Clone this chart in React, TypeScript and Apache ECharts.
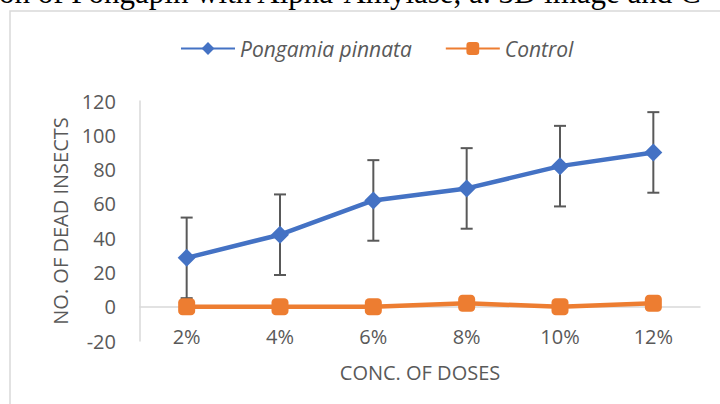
import React, { useEffect, useRef } from "react";
import * as echarts from "echarts";

const categories = ["2%", "4%", "6%", "8%", "10%", "12%"];
const pongamia = [28.5, 42, 62, 69, 82, 90];
const pongamiaErr = [23.5, 23.5, 23.5, 23.5, 23.5, 23.5];
const control = [0, 0, 0, 2, 0, 2];
const yTicks = { min: -20, max: 120, interval: 20 };
const headerText = "on of Pongapin with Alpha-Amylase, a. 3D image and C";

const FONT = "'Open Sans', 'Noto Sans', sans-serif";
const GRAY = "#595959";

export default function App() {
  const ref = useRef<HTMLDivElement>(null);
  useEffect(() => {
    if (!ref.current) return;
    const chart = echarts.init(ref.current, undefined, { renderer: "svg" });
    const errData = pongamia.map((v, i) => [i, v - pongamiaErr[i], v + pongamiaErr[i]]);
    chart.setOption({
      animation: false,
      backgroundColor: "#ffffff",
      textStyle: { fontFamily: FONT },
      graphic: [
        {
          type: "rect",
          shape: { x: 10, y: 11, width: 720, height: 400 },
          style: { fill: "none", stroke: "#d9d9d9", lineWidth: 1.5 },
          z: 0,
        },
        {
          type: "text",
          x: -1,
          y: -23,
          style: {
            text: headerText,
            font: "31px 'Liberation Serif', 'DejaVu Serif', serif",
            fill: "#000",
          },
        },
      ],
      legend: {
        left: 175,
        top: 33,
        itemWidth: 54,
        itemHeight: 16,
        itemGap: 33,
        textStyle: {
          fontFamily: FONT,
          fontStyle: "italic",
          fontSize: 21,
          color: GRAY,
        },
        data: ["Pongamia pinnata", "Control"],
      },
      grid: {
        left: 140,
        right: 20,
        top: 101,
        bottom: 63,
        containLabel: false,
        outerBoundsMode: "none",
      },
      xAxis: {
        type: "category",
        data: categories,
        boundaryGap: true,
        axisLine: { lineStyle: { color: "#d9d9d9", width: 1.5 } },
        axisTick: { show: false },
        axisLabel: { color: GRAY, fontSize: 20, margin: -15, fontFamily: FONT },
        name: "CONC. OF DOSES",
        nameLocation: "middle",
        nameGap: 21,
        nameTextStyle: { color: GRAY, fontSize: 20, fontFamily: FONT },
      },
      yAxis: {
        type: "value",
        min: yTicks.min,
        max: yTicks.max,
        interval: yTicks.interval,
        splitLine: { show: false },
        axisLine: { show: true, lineStyle: { color: "#d9d9d9", width: 1.5 } },
        axisTick: { show: false },
        axisLabel: { color: GRAY, fontSize: 20, margin: 24, fontFamily: FONT },
        name: "NO. OF DEAD INSECTS",
        nameLocation: "middle",
        nameGap: 66,
        nameRotate: 90,
        nameTextStyle: { color: GRAY, fontSize: 20, fontFamily: FONT },
      },
      series: [
        {
          type: "custom",
          name: "err",
          z: 1,
          data: errData,
          encode: { x: 0, y: [1, 2] },
          renderItem: (params: any, api: any) => {
            const i = api.value(0);
            const lo = api.coord([i, api.value(1)]);
            const hi = api.coord([i, api.value(2)]);
            const w = 6;
            const st = { stroke: GRAY, lineWidth: 2 };
            return {
              type: "group",
              children: [
                { type: "line", shape: { x1: lo[0], y1: lo[1], x2: hi[0], y2: hi[1] }, style: st },
                { type: "line", shape: { x1: hi[0] - w, y1: hi[1], x2: hi[0] + w, y2: hi[1] }, style: st },
                { type: "line", shape: { x1: lo[0] - w, y1: lo[1], x2: lo[0] + w, y2: lo[1] }, style: st },
              ],
            };
          },
        },
        {
          type: "line",
          name: "Pongamia pinnata",
          z: 3,
          data: pongamia,
          symbol: "diamond",
          symbolSize: 18,
          lineStyle: { color: "#4472C4", width: 4.5 },
          itemStyle: { color: "#4472C4" },
        },
        {
          type: "line",
          name: "Control",
          z: 2,
          data: control,
          symbol: "roundRect",
          symbolSize: 17,
          lineStyle: { color: "#ED7D31", width: 4.5 },
          itemStyle: { color: "#ED7D31" },
        },
      ],
    });
    return () => chart.dispose();
  }, []);
  return (
    <div
      ref={ref}
      style={{ position: "fixed", left: 0, top: 0, width: 720, height: 404 }}
    />
  );
}
